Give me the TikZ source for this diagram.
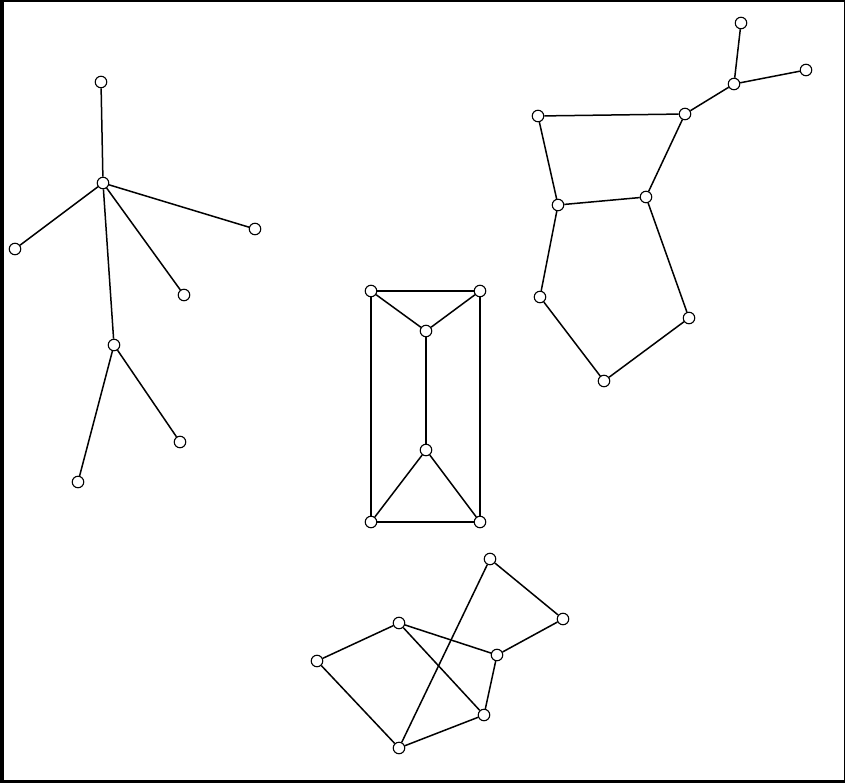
\documentclass[tikz,border=0pt]{standalone}
\usepackage{tikz}
\usetikzlibrary{positioning}

\begin{document}
\begin{tikzpicture}[
  x=1pt, y=-1pt,
  vert/.style={draw, circle, fill=white, line width=1.1pt, minimum size=11.5pt,
               inner sep=0pt},
  edge/.style={line width=1.5pt}
]
% frame and canvas
\fill[black] (0,0) rectangle (845,783);
\fill[white] (4,2) rectangle (844,780);
\useasboundingbox (0,0) rectangle (845,783);

% tree on the left
\node[vert] (t1) at (101,82) {};
\node[vert] (t2) at (103,183) {};
\node[vert] (t3) at (15,249) {};
\node[vert] (t4) at (255,229) {};
\node[vert] (t5) at (184,295) {};
\node[vert] (t6) at (114,345) {};
\node[vert] (t7) at (180,442) {};
\node[vert] (t8) at (78,482) {};

% prism in the middle
\node[vert] (p1) at (371,291) {};
\node[vert] (p2) at (480,291) {};
\node[vert] (p3) at (426,331) {};
\node[vert] (p4) at (426,450) {};
\node[vert] (p5) at (371,522) {};
\node[vert] (p6) at (480,522) {};

% graph at top right
\node[vert] (r1) at (741,23) {};
\node[vert] (r2) at (806,70) {};
\node[vert] (r3) at (734,84) {};
\node[vert] (r4) at (685,114) {};
\node[vert] (r5) at (538,116) {};
\node[vert] (r6) at (646,197) {};
\node[vert] (r7) at (558,205) {};
\node[vert] (r8) at (540,297) {};
\node[vert] (r9) at (689,318) {};
\node[vert] (r10) at (604,381) {};

% graph at the bottom
\node[vert] (b1) at (490,559) {};
\node[vert] (b2) at (563,619) {};
\node[vert] (b3) at (399,623) {};
\node[vert] (b4) at (317,661) {};
\node[vert] (b5) at (497,655) {};
\node[vert] (b6) at (484,715) {};
\node[vert] (b7) at (399,748) {};

% edges (drawn between node borders)
\foreach \u/\v in {t1/t2, t2/t3, t2/t4, t2/t5, t2/t6, t6/t7, t6/t8,
                   p1/p2, p1/p3, p2/p3, p3/p4, p4/p5, p4/p6, p5/p6, p1/p5, p2/p6,
                   r1/r3, r2/r3, r3/r4, r4/r5, r5/r7, r4/r6, r7/r6, r7/r8,
                   r8/r10, r10/r9, r9/r6,
                   b1/b2, b2/b5, b3/b5, b3/b4, b3/b6, b4/b7, b7/b1, b7/b6, b5/b6}
  \draw[edge] (\u) -- (\v);
\end{tikzpicture}
\end{document}
